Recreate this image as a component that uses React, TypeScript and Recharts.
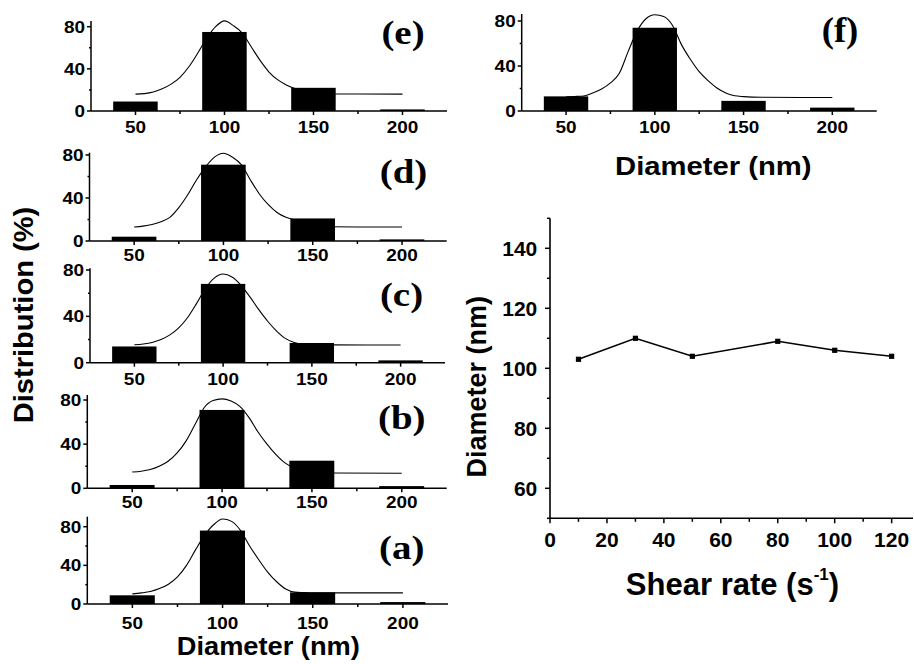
import React from 'react';
import { ComposedChart, LineChart, Bar, Line, XAxis, YAxis } from 'recharts';

// ---------- data ----------
const diameterBins = [50, 100, 150, 200];
const fitDiameters = [50, 55, 60, 65, 70, 75, 80, 85, 90, 95, 100, 105, 110, 115, 120, 125, 130, 135, 140, 145, 150, 160, 200];

const distA = [9, 76, 12, 2];
const distB = [3, 71, 25, 2];
const distC = [14, 68, 17, 2];
const distD = [4, 71, 21, 1.5];
const distE = [9, 75, 22, 1.5];
const distF = [13, 74, 9, 3];

const fitA = [10.5, 11.5, 13, 16, 20.5, 28, 40, 56, 71, 82, 88, 85.5, 76, 60, 46, 33, 23, 15.5, 12.3, 11.8, 11.5, 11.5, 11.5];
const fitB = [14.8, 15.5, 17, 20, 24.5, 32, 43, 58, 73, 79.5, 81, 79, 74, 64, 51, 40, 30.5, 23, 18.5, 16, 14.5, 13.8, 13.6];
const fitC = [15.5, 16.2, 17.5, 20, 24, 30, 39, 51, 64, 73, 76.5, 74, 67, 57, 46, 36, 27.5, 21, 17.5, 16, 15.6, 15.4, 15.3];
const fitD = [13, 13.8, 15.3, 18, 22, 31, 43, 57, 69, 78, 81.6, 78, 71, 57, 44, 34, 26.5, 22, 19.5, 16.5, 14.5, 13.2, 13];
const fitE = [16, 16.5, 18, 21, 25.5, 32, 42, 55, 69, 80, 85.5, 81, 74, 61, 48, 37, 29.5, 24.5, 21, 18.5, 17, 16.2, 16];
const fitF = [12.7, 12.9, 13.4, 16, 19.5, 25, 33.5, 53, 71, 82, 85.5, 84, 76, 59, 46, 35, 27, 20.4, 16, 13.5, 12.8, 12.2, 12];

const histXTicks = [50, 75, 100, 125, 150, 175, 200];
const histXLabels = [50, 100, 150, 200];
const histYTicks = [0, 20, 40, 60, 80];
const histYLabels = [0, 40, 80];

const shearRates = [10, 30, 50, 80, 100, 120];
const meanDiameters = [103, 110, 104, 109, 106, 104];
const shearTicks = [0, 10, 20, 30, 40, 50, 60, 70, 80, 90, 100, 110, 120];
const shearLabels = [0, 20, 40, 60, 80, 100, 120];
const diamTicks = [50, 60, 70, 80, 90, 100, 110, 120, 130, 140, 150];
const diamLabels = [60, 80, 100, 120, 140];

// ---------- layout ----------
const W = 914;
const H = 664;
const X_MIN = 25;
const X_MAX = 225;
const SANS = "'Liberation Sans', Arial, Helvetica, sans-serif";
const SERIF = "'Liberation Serif', 'Times New Roman', Times, serif";

const histPanels = [
  { id: 'e', dist: distE, fit: fitE, left: 91, right: 447, y0: 111, y80: 26.7, axisTop: 24, labelDy: 22.4, tagX: 403, tagY: 44 },
  { id: 'd', dist: distD, fit: fitD, left: 89.5, right: 446.7, y0: 241, y80: 155, axisTop: 152.7, labelDy: 19.5, tagX: 403.5, tagY: 182.5 },
  { id: 'c', dist: distC, fit: fitC, left: 90, right: 445, y0: 362.7, y80: 270, axisTop: 268.3, labelDy: 22.3, tagX: 401.5, tagY: 305.5 },
  { id: 'b', dist: distB, fit: fitB, left: 87.3, right: 446.7, y0: 488.3, y80: 400, axisTop: 395, labelDy: 20, tagX: 401.7, tagY: 429 },
  { id: 'a', dist: distA, fit: fitA, left: 87.3, right: 448, y0: 604, y80: 526.7, axisTop: 516.7, labelDy: 25, tagX: 401.7, tagY: 559 },
  { id: 'f', dist: distF, fit: fitF, left: 521.7, right: 876.7, y0: 111, y80: 21, axisTop: 14, labelDy: 22.3, tagX: 840, tagY: 42 },
];

const makeBarShape = (w: number) => (props: any) => {
  const { x, width, y, height, payload } = props;
  if (!payload || payload.dist == null || !isFinite(y) || !isFinite(height)) return <g />;
  const cx = x + width / 2;
  return <rect x={cx - w / 2} y={y} width={w} height={height} fill="#000" />;
};

const HistXTick = (props: any) => {
  const { x, y, payload, labelDy } = props;
  const major = histXLabels.includes(payload.value);
  return (
    <g>
      <line x1={x} x2={x} y1={y} y2={y + (major ? 4 : 3)} stroke="#000" strokeWidth={1.5} />
      {major && (
        <text transform={`translate(${x},${y + labelDy}) scale(1.15,1)`} textAnchor="middle" fontFamily={SANS} fontWeight="bold" fontSize={16.5} fill="#000">
          {payload.value}
        </text>
      )}
    </g>
  );
};

const HistYTick = (props: any) => {
  const { x, y, payload } = props;
  const major = histYLabels.includes(payload.value);
  return (
    <g>
      <line x1={x} x2={x - (major ? 4 : 2)} y1={y} y2={y} stroke="#000" strokeWidth={1.5} />
      {major && (
        <text transform={`translate(${x - 6},${y}) scale(1.15,1)`} dy="0.36em" textAnchor="end" fontFamily={SANS} fontWeight="bold" fontSize={16.5} fill="#000">
          {payload.value}
        </text>
      )}
    </g>
  );
};

const LineXTick = (props: any) => {
  const { x, y, payload } = props;
  const major = shearLabels.includes(payload.value);
  return (
    <g>
      <line x1={x} x2={x} y1={y} y2={y + (major ? 5 : 3.5)} stroke="#000" strokeWidth={1.5} />
      {major && (
        <text x={x} y={y + 28.4} textAnchor="middle" fontFamily={SANS} fontWeight="bold" fontSize={21} fill="#000">
          {payload.value}
        </text>
      )}
    </g>
  );
};

const LineYTick = (props: any) => {
  const { x, y, payload } = props;
  const major = diamLabels.includes(payload.value);
  return (
    <g>
      <line x1={x} x2={x - (major ? 5 : 3)} y1={y} y2={y} stroke="#000" strokeWidth={1.5} />
      {major && (
        <text x={x - 12.7} y={y} dy="0.36em" textAnchor="end" fontFamily={SANS} fontWeight="bold" fontSize={21} fill="#000">
          {payload.value}
        </text>
      )}
    </g>
  );
};

const SquareDot = (props: any) => {
  const { cx, cy } = props;
  if (!isFinite(cx) || !isFinite(cy)) return <g />;
  return <rect x={cx - 2.6} y={cy - 2.6} width={5.2} height={5.2} fill="#000" />;
};

function Histogram({ p }: { p: any }) {
  const rows = fitDiameters.map((d, i) => {
    const bi = diameterBins.indexOf(d);
    return { d, fit: p.fit[i], dist: bi >= 0 ? p.dist[bi] : null };
  });
  const ppu = (p.y0 - p.y80) / 80;
  const axisTopVal = (p.y0 - p.axisTop) / ppu;
  const domTop = Math.max(axisTopVal, ...p.fit, ...p.dist);
  const plotTop = p.y0 - domTop * ppu;
  const barPx = (25 * (p.right - p.left)) / (X_MAX - X_MIN);
  const axisStyle = { stroke: '#000', strokeWidth: 1.5 };
  return (
    <div style={{ position: 'absolute', left: 0, top: 0 }}>
      <ComposedChart
        width={W}
        height={H}
        data={rows}
        margin={{ top: plotTop, left: p.left - 40, right: W - p.right, bottom: H - p.y0 - 30 }}
      >
        <XAxis
          dataKey="d"
          type="number"
          domain={[X_MIN, X_MAX]}
          ticks={histXTicks}
          interval={0}
          height={30}
          tickSize={0}
          tickMargin={0}
          axisLine={axisStyle}
          tickLine={false}
          tick={(tp: any) => <HistXTick {...tp} labelDy={p.labelDy} />}
        />
        <YAxis
          type="number"
          domain={[0, domTop]}
          ticks={histYTicks}
          interval={0}
          width={40}
          tickSize={0}
          tickMargin={0}
          axisLine={axisStyle}
          tickLine={false}
          tick={(tp: any) => <HistYTick {...tp} />}
        />
        <Line dataKey="fit" type="monotone" stroke="#000" strokeWidth={1.1} dot={false} activeDot={false} isAnimationActive={false} />
        <Bar dataKey="dist" shape={makeBarShape(barPx)} isAnimationActive={false} />
      </ComposedChart>
    </div>
  );
}

function ShearChart() {
  const rows = shearRates.map((s, i) => ({ s, dia: meanDiameters[i] }));
  const axisStyle = { stroke: '#000', strokeWidth: 1.6 };
  const top = 218.3;
  const bottom = 518.3;
  return (
    <div style={{ position: 'absolute', left: 0, top: 0 }}>
      <LineChart width={W} height={H} data={rows} margin={{ top, left: 550 - 60, right: 1, bottom: H - bottom - 40 }}>
        <XAxis
          dataKey="s"
          type="number"
          domain={[0, 127.5]}
          ticks={shearTicks}
          interval={0}
          height={40}
          tickSize={0}
          tickMargin={0}
          axisLine={axisStyle}
          tickLine={false}
          tick={(tp: any) => <LineXTick {...tp} />}
        />
        <YAxis
          type="number"
          domain={[50, 150]}
          ticks={diamTicks}
          interval={0}
          width={60}
          tickSize={0}
          tickMargin={0}
          axisLine={axisStyle}
          tickLine={false}
          tick={(tp: any) => <LineYTick {...tp} />}
        />
        <Line dataKey="dia" type="linear" stroke="#000" strokeWidth={1.6} dot={(dp: any) => <SquareDot key={dp.index} {...dp} />} activeDot={false} isAnimationActive={false} />
      </LineChart>
    </div>
  );
}

function Overlay() {
  return (
    <svg width={W} height={H} style={{ position: 'absolute', left: 0, top: 0, pointerEvents: 'none' }}>
      {histPanels.map((p) => (
        <text
          key={p.id}
          transform={`translate(${p.tagX},${p.tagY}) scale(${p.id === 'f' ? 1.05 : 1.18},1)`}
          textAnchor="middle"
          fontFamily={SERIF}
          fontWeight="bold"
          fontSize={p.id === 'f' ? 35 : 33}
          fill="#000"
        >
          ({p.id})
        </text>
      ))}
      <text transform="translate(33,315) rotate(-90) scale(1.04,1)" textAnchor="middle" fontFamily={SANS} fontWeight="bold" fontSize={28} fill="#000">
        Distribution (%)
      </text>
      <text transform="translate(268.3,655) scale(1.09,1)" textAnchor="middle" fontFamily={SANS} fontWeight="bold" fontSize={25} fill="#000">
        Diameter (nm)
      </text>
      <text transform="translate(713.3,175) scale(1.17,1)" textAnchor="middle" fontFamily={SANS} fontWeight="bold" fontSize={25} fill="#000">
        Diameter (nm)
      </text>
      <text transform="translate(486,386.7) rotate(-90)" textAnchor="middle" fontFamily={SANS} fontWeight="bold" fontSize={27} fill="#000">
        Diameter (nm)
      </text>
      <text x={732.5} y={595} textAnchor="middle" fontFamily={SANS} fontWeight="bold" fontSize={31} fill="#000">
        Shear rate (s
        <tspan fontSize={17} dy={-15}>-1</tspan>
        <tspan dy={15}>)</tspan>
      </text>
    </svg>
  );
}

export default function App() {
  return (
    <div style={{ position: 'absolute', left: 0, top: 0, width: W, height: H, background: '#fff', overflow: 'hidden' }}>
      {histPanels.map((p) => (
        <Histogram key={p.id} p={p} />
      ))}
      <ShearChart />
      <Overlay />
    </div>
  );
}
